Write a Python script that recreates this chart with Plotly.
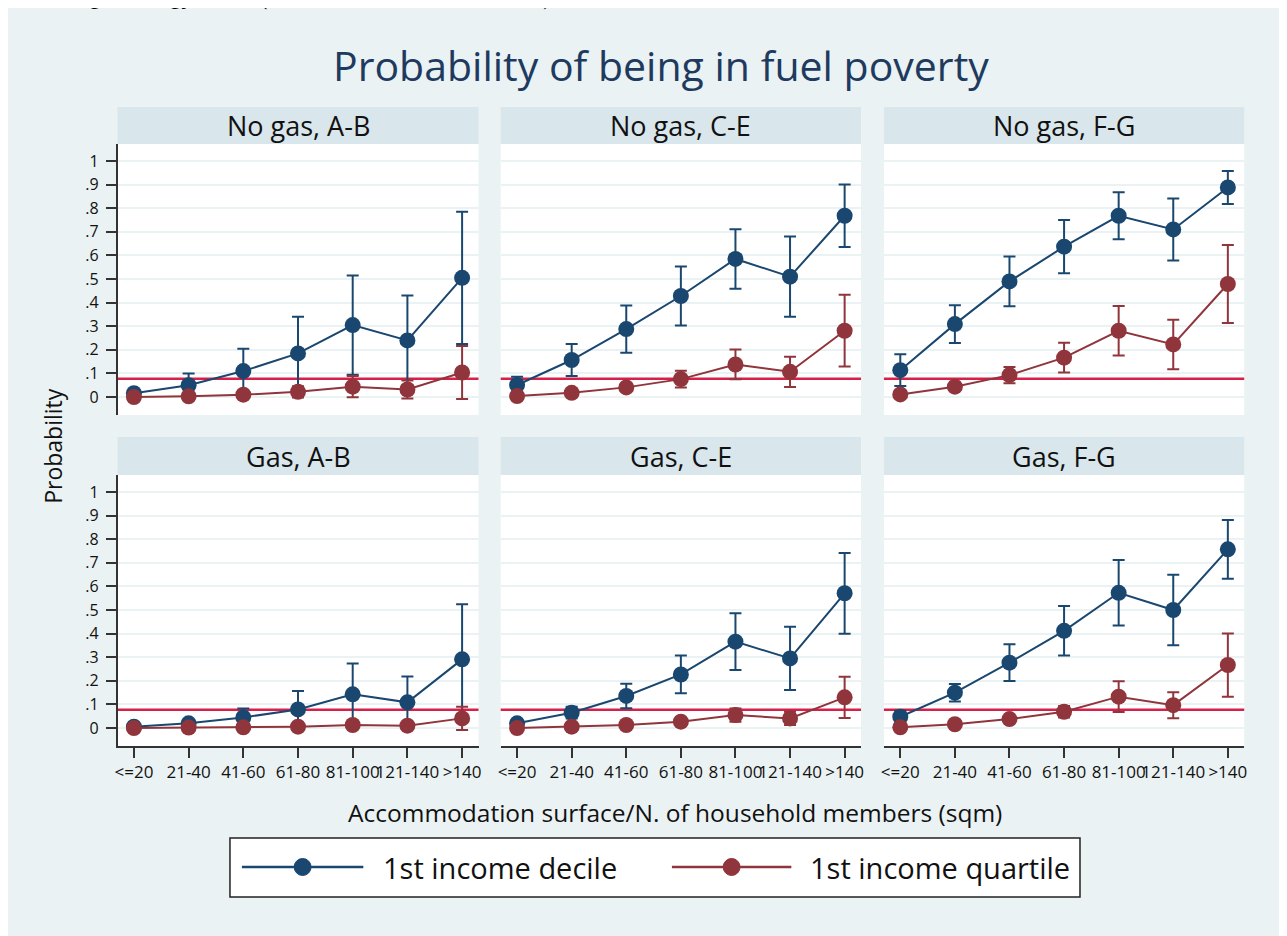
import plotly.graph_objects as go

W, H = 1287, 936

categories = ["<=20", "21-40", "41-60", "61-80", "81-100", "121-140", ">140"]
panel_titles = ["No gas, A-B", "No gas, C-E", "No gas, F-G",
                "Gas, A-B", "Gas, C-E", "Gas, F-G"]

# 1st income decile: point estimates and half-width of confidence intervals
decile_nogas_ab = [0.016, 0.05, 0.11, 0.185, 0.305, 0.24, 0.505]
decile_nogas_ab_ci = [0.012, 0.05, 0.095, 0.155, 0.21, 0.19, 0.28]
decile_nogas_ce = [0.051, 0.157, 0.288, 0.428, 0.585, 0.51, 0.768]
decile_nogas_ce_ci = [0.035, 0.068, 0.10, 0.125, 0.126, 0.17, 0.132]
decile_nogas_fg = [0.114, 0.309, 0.49, 0.637, 0.768, 0.71, 0.888]
decile_nogas_fg_ci = [0.067, 0.08, 0.105, 0.113, 0.10, 0.131, 0.07]
decile_gas_ab = [0.006, 0.02, 0.045, 0.079, 0.143, 0.109, 0.291]
decile_gas_ab_ci = [0.006, 0.012, 0.038, 0.078, 0.131, 0.109, 0.233]
decile_gas_ce = [0.02, 0.065, 0.136, 0.227, 0.366, 0.295, 0.571]
decile_gas_ce_ci = [0.012, 0.025, 0.052, 0.08, 0.12, 0.134, 0.171]
decile_gas_fg = [0.048, 0.15, 0.277, 0.412, 0.573, 0.50, 0.757]
decile_gas_fg_ci = [0.025, 0.037, 0.078, 0.105, 0.139, 0.149, 0.124]

# 1st income quartile
quart_nogas_ab = [0.0, 0.003, 0.01, 0.022, 0.044, 0.032, 0.104]
quart_nogas_ab_ci = [0.003, 0.004, 0.008, 0.024, 0.045, 0.038, 0.112]
quart_nogas_ce = [0.004, 0.018, 0.041, 0.076, 0.138, 0.107, 0.281]
quart_nogas_ce_ci = [0.004, 0.008, 0.015, 0.035, 0.063, 0.064, 0.152]
quart_nogas_fg = [0.011, 0.044, 0.093, 0.167, 0.281, 0.223, 0.479]
quart_nogas_fg_ci = [0.008, 0.015, 0.034, 0.063, 0.105, 0.105, 0.165]
quart_gas_ab = [0.0, 0.002, 0.003, 0.006, 0.013, 0.01, 0.041]
quart_gas_ab_ci = [0.001, 0.002, 0.003, 0.006, 0.01, 0.01, 0.049]
quart_gas_ce = [0.0, 0.006, 0.013, 0.027, 0.055, 0.041, 0.13]
quart_gas_ce_ci = [0.002, 0.004, 0.006, 0.01, 0.028, 0.028, 0.087]
quart_gas_fg = [0.003, 0.016, 0.038, 0.069, 0.133, 0.097, 0.267]
quart_gas_fg_ci = [0.003, 0.006, 0.012, 0.024, 0.065, 0.055, 0.134]

threshold = 0.078
ytick_vals = [0, 0.1, 0.2, 0.3, 0.4, 0.5, 0.6, 0.7, 0.8, 0.9, 1]
ytick_text = ["0", ".1", ".2", ".3", ".4", ".5", ".6", ".7", ".8", ".9", "1"]

decile_sets = [(decile_nogas_ab, decile_nogas_ab_ci), (decile_nogas_ce, decile_nogas_ce_ci),
               (decile_nogas_fg, decile_nogas_fg_ci), (decile_gas_ab, decile_gas_ab_ci),
               (decile_gas_ce, decile_gas_ce_ci), (decile_gas_fg, decile_gas_fg_ci)]
quart_sets = [(quart_nogas_ab, quart_nogas_ab_ci), (quart_nogas_ce, quart_nogas_ce_ci),
              (quart_nogas_fg, quart_nogas_fg_ci), (quart_gas_ab, quart_gas_ab_ci),
              (quart_gas_ce, quart_gas_ce_ci), (quart_gas_fg, quart_gas_fg_ci)]

NAVY = "#1a476f"
MAROON = "#90353b"
RED = "#d6204a"
BG = "#eaf2f3"
STRIP = "#d9e6eb"
FONT = "Open Sans"

OFF = 8  # page body margin


def fx(x):
    return (x - OFF) / W


def fy(y):
    return 1 - (y - OFF) / H


cols = [(115, 477.7), (500, 862), (885, 1247)]
rows = [(144, 415, 107), (475, 746, 437)]  # plot top, plot bottom, strip top

fig = go.Figure()
shapes = []
annotations = []

for i in range(6):
    r, c = divmod(i, 3)
    n = i + 1
    xa = "x" if n == 1 else f"x{n}"
    ya = "y" if n == 1 else f"y{n}"
    x0, x1 = cols[c]
    ptop, pbot, stop = rows[r]
    layout_x = "xaxis" if n == 1 else f"xaxis{n}"
    layout_y = "yaxis" if n == 1 else f"yaxis{n}"
    fig.layout[layout_x] = dict(
        domain=[fx(x0), fx(x1)], anchor=ya, type="category",
        categoryorder="array", categoryarray=categories,
        range=[-0.3, 6.3], showgrid=False, zeroline=False,
        showline=(r == 1), linecolor="#333333", linewidth=1.5,
        ticks="outside" if r == 1 else "", ticklen=10, tickwidth=1.5, tickcolor="#333333",
        showticklabels=(r == 1), tickfont=dict(family=FONT, size=17, color="#111111"),
        tickangle=0, fixedrange=True,
    )
    fig.layout[layout_y] = dict(
        domain=[fy(pbot), fy(ptop)], anchor=xa, range=[-0.076, 1.072],
        tickvals=ytick_vals, ticktext=ytick_text,
        showgrid=True, gridcolor=BG, gridwidth=2, zeroline=False,
        showline=(c == 0), linecolor="#333333", linewidth=1.5,
        ticks="outside" if c == 0 else "", ticklen=10, tickwidth=1.5, tickcolor="#333333",
        showticklabels=(c == 0), tickfont=dict(family=FONT, size=16, color="#111111"),
        ticklabelstandoff=4, fixedrange=True,
    )
    # strip header
    shapes.append(dict(type="rect", xref="paper", yref="paper", x0=fx(x0), x1=fx(x1),
                       y0=fy(ptop), y1=fy(stop), fillcolor=STRIP, line_width=0, layer="below"))
    annotations.append(dict(text=panel_titles[i], xref="paper", yref="paper",
                            x=fx((x0 + x1) / 2), y=fy((ptop + stop) / 2),
                            xanchor="center", yanchor="middle", showarrow=False,
                            font=dict(family=FONT, size=27, color="#111111")))
    # threshold line
    shapes.append(dict(type="line", xref=f"{xa} domain", yref=ya, x0=0, x1=1,
                       y0=threshold, y1=threshold, line=dict(color=RED, width=2.5),
                       layer="below"))

    dv, dci = decile_sets[i]
    qv, qci = quart_sets[i]
    fig.add_trace(go.Scatter(
        x=categories, y=dv, xaxis=xa, yaxis=ya, mode="lines+markers",
        name="1st income decile", showlegend=False,
        line=dict(color=NAVY, width=2), marker=dict(color=NAVY, size=16),
        error_y=dict(type="data", array=dci, visible=True, color=NAVY, thickness=2, width=6)))
    fig.add_trace(go.Scatter(
        x=categories, y=qv, xaxis=xa, yaxis=ya, mode="lines+markers",
        name="1st income quartile", showlegend=False,
        line=dict(color=MAROON, width=2), marker=dict(color=MAROON, size=16),
        error_y=dict(type="data", array=qci, visible=True, color=MAROON, thickness=2, width=6)))

# Title
annotations.append(dict(text="Probability of being in fuel poverty", xref="paper", yref="paper",
                        x=fx(661), y=fy(65), xanchor="center", yanchor="middle", showarrow=False,
                        font=dict(family=FONT, size=41, color="#1f3a5f")))
# Axis titles
annotations.append(dict(text="Probability", xref="paper", yref="paper", x=fx(50), y=fy(446),
                        xanchor="center", yanchor="middle", textangle=-90, showarrow=False,
                        font=dict(family=FONT, size=23, color="#111111")))
annotations.append(dict(text="Accommodation surface/N. of household members (sqm)",
                        xref="paper", yref="paper", x=fx(675), y=fy(812),
                        xanchor="center", yanchor="middle", showarrow=False,
                        font=dict(family=FONT, size=24.5, color="#111111")))
# Cut-off caption from the page above
annotations.append(dict(text="<i>dwelling's energy class (A or B, C to E, and F or G).</i>",
                        xref="paper", yref="paper", x=fx(9), y=fy(12),
                        xanchor="left", yanchor="bottom", showarrow=False,
                        font=dict(family="Liberation Serif", size=26, color="#000000")))

# Legend box (drawn manually)
shapes.append(dict(type="rect", xref="paper", yref="paper", x0=fx(228), x1=fx(1082),
                   y0=fy(897), y1=fy(838), fillcolor="white",
                   line=dict(color="#222222", width=1.5)))
leg_items = [("1st income decile", NAVY, 240, 362, 380), ("1st income quartile", MAROON, 672, 792, 809)]
ly = 867
for label, col, lx0, lx1, tx in leg_items:
    shapes.append(dict(type="line", xref="paper", yref="paper", x0=fx(lx0), x1=fx(lx1),
                       y0=fy(ly), y1=fy(ly), line=dict(color=col, width=2.5)))
    cx = (lx0 + lx1) / 2
    rr = 8.5
    shapes.append(dict(type="circle", xref="paper", yref="paper", x0=fx(cx - rr), x1=fx(cx + rr),
                       y0=fy(ly + rr), y1=fy(ly - rr), fillcolor=col, line=dict(color=col, width=1)))
    annotations.append(dict(text=label, xref="paper", yref="paper", x=fx(tx), y=fy(ly),
                            xanchor="left", yanchor="middle", showarrow=False,
                            font=dict(family=FONT, size=29, color="#111111")))

fig.update_layout(
    width=W, height=H, margin=dict(l=0, r=0, t=0, b=0),
    paper_bgcolor=BG, plot_bgcolor="white",
    shapes=shapes, annotations=annotations, showlegend=False,
    font=dict(family=FONT),
)

fig.write_html("out.html")
